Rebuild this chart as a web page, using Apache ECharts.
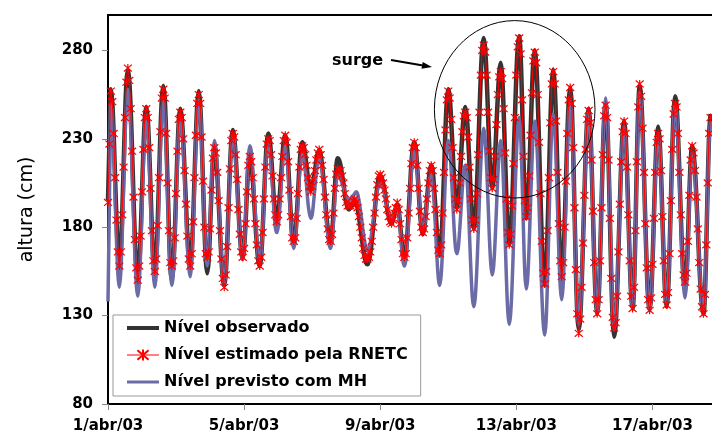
<!DOCTYPE html>
<html>
<head>
<meta charset="utf-8">
<script src="https://cdn.jsdelivr.net/npm/echarts@6/dist/echarts.min.js"></script>
<style>
html,body{margin:0;padding:0;background:#fff;}
#chart{width:712px;height:441px;}
</style>
</head>
<body>
<div id="chart"></div>
<script>
// hourly water level (cm), hour 0 = 1/abr/03 00:00
const obsLevel = [
195,227,258,251,233,208,184,166,159,166,187,214,242,262,269,263,247,223,197,173,157,151,158,175,
200,224,242,248,242,225,202,178,161,155,162,181,208,234,253,260,253,233,205,178,157,150,157,174,
199,223,241,247,242,230,212,193,175,162,158,165,183,208,232,250,257,250,231,206,180,161,154,161,
179,201,219,226,222,211,195,178,162,151,147,153,169,191,213,229,235,231,221,207,190,176,166,162,
168,182,200,215,220,217,208,196,182,170,161,158,163,177,196,214,228,233,230,221,209,196,187,184,
187,196,208,220,229,232,228,217,201,186,174,170,174,185,199,214,224,228,226,221,215,208,203,201,
203,207,212,218,222,223,221,215,207,197,187,179,173,171,176,188,202,214,219,218,215,210,205,199,
194,191,190,191,192,194,195,194,191,186,180,174,168,163,160,159,161,165,172,180,188,197,203,208,
209,208,205,201,196,190,186,183,182,184,188,191,193,190,182,173,165,162,165,174,188,202,216,225,
228,225,215,202,189,180,176,179,186,196,205,212,215,212,202,190,177,167,164,170,188,211,235,252,
258,254,241,225,208,196,191,195,205,220,234,244,248,243,231,214,196,184,179,184,199,221,245,267,
282,287,281,266,245,223,208,202,207,220,238,255,268,273,266,247,222,196,177,170,176,192,216,242,
266,282,288,278,252,220,195,185,191,209,232,256,274,280,273,255,228,199,172,154,147,155,178,208,
239,261,269,261,240,211,182,161,153,160,180,206,233,252,259,250,225,191,156,131,122,128,146,171,
198,224,241,247,239,218,189,160,139,131,139,161,191,221,243,251,242,218,185,151,127,118,124,141,
166,193,217,234,240,233,214,187,161,141,134,146,178,217,248,260,254,236,211,182,157,139,133,140,
159,185,211,230,237,230,212,186,161,142,135,143,165,195,224,246,254,249,233,211,187,165,150,144,
152,172,198,218,226,222,212,197,179,160,145,135,131,142,170,205,233,244
];
const rnetcLevel = [
194,227,257,251,233,208,184,166,158,166,187,214,242,262,270,263,247,223,197,173,157,150,158,175,
200,224,242,247,242,225,202,178,161,155,162,181,208,234,253,258,253,233,205,178,160,158,161,174,
199,223,241,245,242,230,212,193,175,162,158,165,183,208,232,250,255,250,231,206,180,165,163,166,
179,201,219,225,222,211,195,178,162,151,146,153,169,191,213,229,233,231,221,207,190,176,166,163,
168,182,200,215,220,217,208,196,182,170,161,158,163,177,196,214,227,230,229,221,209,196,187,183,
187,196,208,220,229,232,228,217,201,186,174,172,174,185,199,214,224,226,225,221,215,208,203,200,
203,207,212,218,222,224,221,215,207,197,187,179,173,172,176,188,202,210,213,212,212,209,205,199,
194,192,192,192,193,195,196,194,191,186,180,174,168,164,162,162,163,166,172,180,188,197,204,209,
210,208,205,201,196,190,186,183,182,184,188,191,194,190,182,173,165,163,165,174,188,202,216,225,
228,225,215,202,189,180,177,179,186,196,205,212,215,212,202,190,177,167,165,170,188,211,235,252,
257,253,241,225,208,196,190,195,205,220,234,243,245,242,231,214,196,184,179,184,199,221,245,266,
280,283,279,266,245,223,208,202,207,220,238,255,265,268,264,247,222,196,177,170,176,192,216,242,
266,282,287,278,252,220,195,186,191,209,232,256,274,279,273,255,228,199,172,154,148,155,178,208,
239,261,268,261,240,211,182,161,152,160,180,206,233,252,259,250,225,191,156,131,120,128,146,171,
198,224,241,246,239,218,189,160,139,131,139,161,191,221,243,249,242,218,185,151,129,123,126,141,
166,193,217,234,240,233,214,187,161,141,134,146,178,217,248,261,254,236,211,182,157,139,133,140,
159,185,211,228,233,230,212,186,161,142,136,143,165,195,224,244,250,248,233,211,187,165,153,149,
154,172,198,218,226,222,212,197,179,160,145,135,131,142,170,205,233,242
];
const mhLevel = [
138,194,250,243,224,198,172,153,146,154,174,202,230,250,258,252,236,212,186,163,147,141,148,166,
192,217,236,243,237,219,195,170,153,146,153,172,199,225,245,252,245,226,200,173,154,147,153,171,
195,219,237,243,238,226,208,187,169,157,152,159,177,202,227,245,252,246,229,205,182,164,158,165,
183,205,222,229,225,214,198,180,163,152,148,154,169,190,211,226,232,229,219,205,189,175,166,162,
168,184,204,220,226,223,214,200,186,172,163,160,165,177,194,211,223,228,225,215,203,190,180,177,
180,189,202,214,223,226,222,212,197,183,172,168,172,182,195,209,218,222,220,213,204,194,188,185,
187,194,203,211,218,220,218,212,204,194,184,176,170,168,172,183,196,206,210,209,208,205,203,200,
197,196,195,196,197,198,199,200,199,195,190,184,177,172,168,167,168,171,177,183,189,196,201,204,
205,204,202,199,195,191,188,186,185,186,189,191,192,189,180,170,161,158,161,171,184,199,212,222,
225,222,213,202,190,181,178,180,186,194,202,208,210,206,194,179,163,151,147,153,168,188,209,224,
229,225,213,197,181,169,165,168,178,190,203,212,215,210,195,175,155,140,135,140,154,174,197,217,
231,236,230,215,195,174,159,153,158,172,191,210,224,229,222,203,177,151,132,125,131,147,171,197,
220,236,242,233,209,179,154,145,151,169,193,216,234,240,234,217,193,166,142,125,119,127,150,182,
213,236,244,237,218,192,165,146,139,147,167,195,223,244,251,243,220,188,157,133,125,131,148,172,
198,222,239,245,237,217,189,160,140,132,140,162,193,223,245,253,244,220,188,155,131,122,128,144,
167,192,215,231,237,230,211,186,160,141,134,146,176,214,244,256,250,233,208,181,156,139,133,140,
158,183,208,226,233,227,209,185,161,143,137,145,165,194,222,242,250,245,229,207,183,161,146,140,
148,168,194,214,222,219,209,195,178,161,146,136,133,143,170,203,230,240
];
const tickLabels = ['1/abr/03','5/abr/03','9/abr/03','13/abr/03','17/abr/03'];
const seriesNames = ['Nível observado','Nível estimado pela RNETC','Nível previsto com MH'];
const hoursPerTick = 96;
const lastHour = 426;

const toPairs = arr => arr.map((v, i) => [i, v]);
const FONT = 'DejaVu Sans';
const asterisk = 'path://M5,0L5,10M0.7,0.7L9.3,9.3M9.3,0.7L0.7,9.3';
const hiddenSymbol = {color: 'rgba(0,0,0,0)', borderWidth: 0, opacity: 0};

const chart = echarts.init(document.getElementById('chart'), null, {renderer: 'canvas'});
chart.setOption({
  animation: false,
  backgroundColor: '#fff',
  grid: {left: 108, top: 15, right: 0, bottom: 37, containLabel: false},
  xAxis: [{
    type: 'value', min: 0, max: lastHour, interval: hoursPerTick,
    axisLine: {show: true, onZero: false, lineStyle: {color: '#000', width: 2}},
    axisTick: {show: true, length: 6, lineStyle: {color: '#888', width: 1}},
    axisLabel: {
      margin: 15, color: '#000', fontFamily: FONT, fontWeight: 'bold', fontSize: 15,
      showMaxLabel: false,
      formatter: v => tickLabels[Math.round(v / hoursPerTick)] || ''
    },
    splitLine: {show: false}
  }, {
    type: 'value', min: 0, max: lastHour, position: 'top',
    axisLine: {show: true, onZero: false, lineStyle: {color: '#000', width: 2}},
    axisTick: {show: false}, axisLabel: {show: false}, splitLine: {show: false}
  }],
  yAxis: {
    type: 'value', min: 80, max: 300, interval: 50,
    name: 'altura (cm)', nameLocation: 'middle', nameGap: 71,
    nameTextStyle: {fontFamily: FONT, fontSize: 19, color: '#000'},
    axisLine: {show: true, onZero: false, lineStyle: {color: '#000', width: 2}},
    axisTick: {show: true, length: 6, lineStyle: {color: '#888', width: 1}},
    axisLabel: {margin: 15, color: '#000', fontFamily: FONT, fontWeight: 'bold', fontSize: 15,
      showMaxLabel: false},
    splitLine: {show: false}
  },
  legend: {
    orient: 'vertical', left: 113, top: 315,
    data: [
      {name: seriesNames[0], itemStyle: hiddenSymbol, lineStyle: {width: 4}},
      {name: seriesNames[1], lineStyle: {width: 1}},
      {name: seriesNames[2], itemStyle: hiddenSymbol, lineStyle: {width: 3}}
    ],
    itemWidth: 32, itemHeight: 14, itemGap: 9,
    padding: [4, 13, 5, 12],
    backgroundColor: '#fff', borderColor: '#999', borderWidth: 1,
    textStyle: {fontFamily: FONT, fontWeight: 'bold', fontSize: 16, color: '#000', lineHeight: 18}
  },
  series: [{
    name: seriesNames[0], type: 'line', data: toPairs(obsLevel),
    symbol: 'none', smooth: 0.3,
    lineStyle: {color: '#333', width: 4.5}, itemStyle: {color: '#333'}
  }, {
    name: seriesNames[2], type: 'line', data: toPairs(mhLevel),
    symbol: 'none', smooth: 0.3,
    lineStyle: {color: '#6b6ba6', width: 3.5}, itemStyle: {color: '#6b6ba6'}
  }, {
    name: seriesNames[1], type: 'line', data: toPairs(rnetcLevel),
    symbol: asterisk, symbolSize: 8, showAllSymbol: true, smooth: 0.3,
    lineStyle: {color: '#ff0000', width: 1},
    itemStyle: {color: '#ff0000', borderColor: '#ff0000', borderWidth: 1.2}
  }],
  graphic: [
    {type: 'ellipse', shape: {cx: 514.7, cy: 109.3, rx: 80.3, ry: 88.7},
      style: {fill: 'none', stroke: '#000', lineWidth: 1}, z: 100},
    {type: 'text', left: 332, top: 53,
      style: {text: 'surge', font: 'bold 16px "DejaVu Sans"', fill: '#000'}, z: 100},
    {type: 'line', shape: {x1: 391, y1: 60, x2: 423, y2: 65.4},
      style: {stroke: '#000', lineWidth: 2}, z: 100},
    {type: 'polygon', shape: {points: [[432, 67], [421.5, 68.8], [422.7, 61.9]]},
      style: {fill: '#000'}, z: 100}
  ]
});
</script>
</body>
</html>
